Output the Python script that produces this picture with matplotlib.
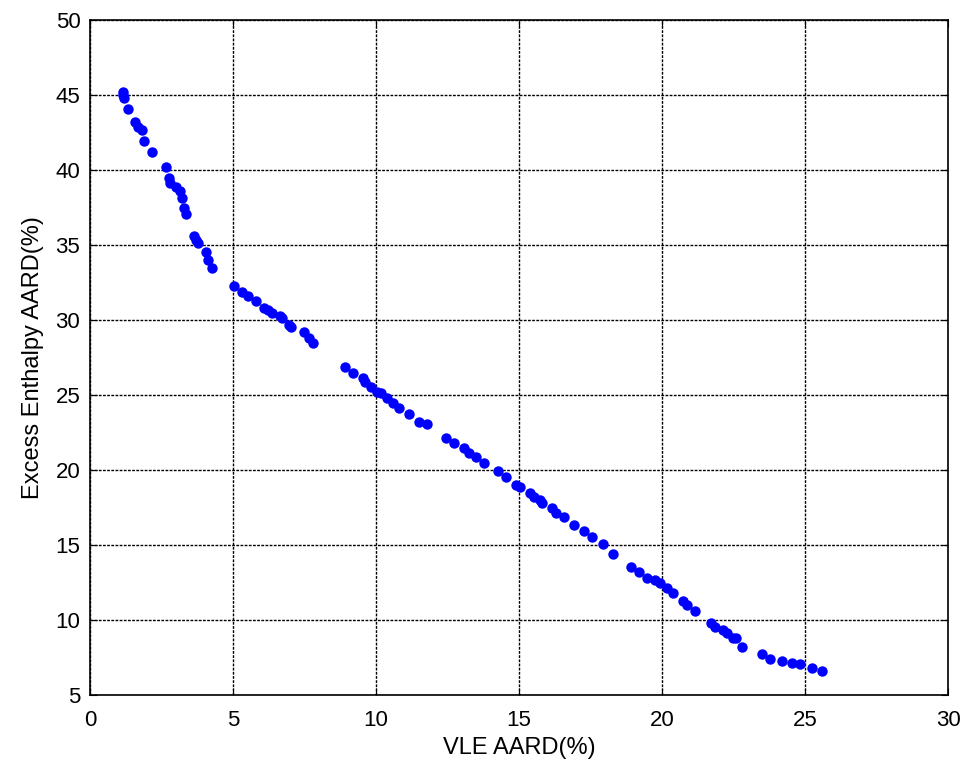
import matplotlib.pyplot as plt

plt.rcParams['font.family'] = ['Liberation Sans', 'DejaVu Sans']

# VLE AARD(%) vs excess enthalpy AARD(%) for each parameter set
vle_aard = [1.14, 1.16, 1.19, 1.31, 1.56, 1.69, 1.80, 1.87, 2.15, 2.64,
            2.75, 2.81, 2.99, 3.13, 3.23, 3.30, 3.37, 3.65, 3.72, 3.79,
            4.04, 4.11, 4.25, 5.02, 5.31, 5.52, 5.79, 6.07, 6.21, 6.35,
            6.63, 6.70, 6.97, 7.01, 7.47, 7.64, 7.81, 8.90, 9.21, 9.56,
            9.63, 9.81, 10.05, 10.16, 10.40, 10.58, 10.82, 11.14, 11.49, 11.77,
            12.43, 12.71, 13.06, 13.24, 13.48, 13.76, 14.25, 14.56, 14.88, 15.05,
            15.37, 15.51, 15.75, 15.82, 16.14, 16.28, 16.56, 16.91, 17.26, 17.55,
            17.95, 18.30, 18.93, 19.21, 19.49, 19.77, 19.94, 20.19, 20.40, 20.75,
            20.89, 21.17, 21.73, 21.87, 22.15, 22.26, 22.47, 22.57, 22.78, 23.48,
            23.76, 24.18, 24.53, 24.81, 25.23, 25.61]
he_aard = [45.2, 45.0, 44.8, 44.07, 43.2, 42.87, 42.67, 41.93, 41.2, 40.2,
           39.47, 39.13, 38.87, 38.6, 38.13, 37.47, 37.07, 35.6, 35.33, 35.13,
           34.53, 34.0, 33.47, 32.27, 31.87, 31.6, 31.27, 30.8, 30.67, 30.47,
           30.27, 30.13, 29.67, 29.53, 29.2, 28.8, 28.47, 26.87, 26.47, 26.13,
           25.87, 25.53, 25.2, 25.13, 24.8, 24.47, 24.13, 23.73, 23.2, 23.07,
           22.13, 21.8, 21.47, 21.13, 20.87, 20.47, 19.93, 19.53, 19.0, 18.87,
           18.47, 18.2, 18.0, 17.8, 17.47, 17.13, 16.87, 16.33, 15.93, 15.53,
           15.07, 14.4, 13.53, 13.2, 12.8, 12.67, 12.47, 12.13, 11.8, 11.27,
           11.0, 10.6, 9.8, 9.53, 9.33, 9.13, 8.8, 8.8, 8.2, 7.73,
           7.4, 7.27, 7.13, 7.07, 6.8, 6.6]

x_ticks = [0, 5, 10, 15, 20, 25, 30]
y_ticks = [5, 10, 15, 20, 25, 30, 35, 40, 45, 50]

fig = plt.figure(figsize=(9.64, 7.64), dpi=100)
ax = fig.add_axes([0.0934, 0.0903, 0.89, 0.8835])

ax.plot(vle_aard, he_aard, 'o', color='#0000ff', markersize=7.5, markeredgewidth=0)

ax.set_xlim(0, 30)
ax.set_ylim(5, 50)
ax.set_xticks(x_ticks)
ax.set_yticks(y_ticks)
# matlab-like dotted grid
ax.grid(True, color='black', linestyle=(0, (2, 1)), linewidth=1.0)
ax.tick_params(direction='in', top=True, right=True, labelsize=16, length=5)
ax.tick_params(axis='x', pad=11)
ax.tick_params(axis='y', pad=7)
for s in ax.spines.values():
    s.set_linewidth(1.2)

ax.set_xlabel('VLE AARD(%)', fontsize=17, labelpad=4)
ax.set_ylabel('Excess Enthalpy AARD(%)', fontsize=17, labelpad=8)

fig.savefig('out.png', dpi=100)
